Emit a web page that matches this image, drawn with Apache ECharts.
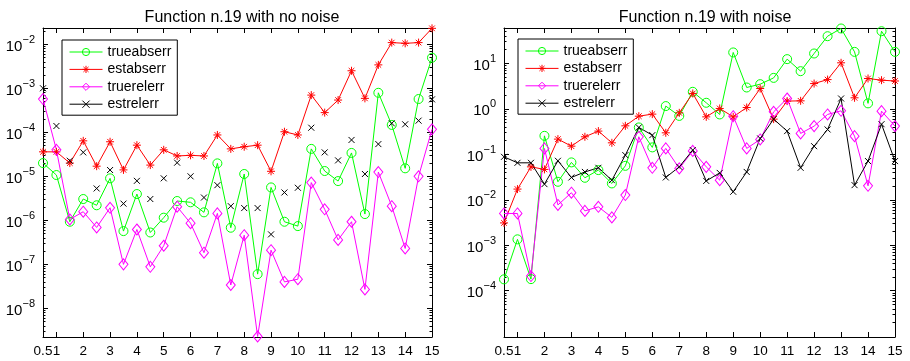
<!DOCTYPE html>
<html>
<head>
<meta charset="utf-8">
<script src="https://cdn.jsdelivr.net/npm/echarts@6/dist/echarts.min.js"></script>
<style>
body{margin:0;background:#fff;}
#main{width:910px;height:361px;}
</style>
</head>
<body>
<div id="main"></div>
<script>
// x positions (0.5 .. 15, step 0.5)
var xs = [0.5, 1, 1.5, 2, 2.5, 3, 3.5, 4, 4.5, 5, 5.5, 6, 6.5, 7, 7.5, 8, 8.5, 9, 9.5, 10,
          10.5, 11, 11.5, 12, 12.5, 13, 13.5, 14, 14.5, 15];
var xTicks = [0.5, 1, 2, 3, 4, 5, 6, 7, 8, 9, 10, 11, 12, 13, 14, 15];
var tol = 1e-4;

// Function n.19 with no noise
var trueAbsNN = [2.0e-5, 1.07e-5, 9.3e-7, 3.05e-6, 2.2e-6, 9.0e-6, 5.7e-7, 3.96e-6, 5.3e-7, 1.15e-6,
                 2.75e-6, 2.57e-6, 1.52e-6, 1.97e-5, 6.8e-7, 1.13e-5, 6.0e-8, 5.6e-6, 9.3e-7, 7.4e-7,
                 4.2e-5, 1.32e-5, 7.8e-6, 3.4e-5, 1.39e-6, 7.9e-4, 1.47e-4, 1.52e-5, 5.7e-4, 4.95e-3];
var estAbsNN  = [3.6e-5, 3.6e-5, 2.0e-5, 6.4e-5, 1.7e-5, 6.1e-5, 1.4e-5, 5.1e-5, 1.8e-5, 4.0e-5,
                 2.9e-5, 3.0e-5, 2.9e-5, 8.7e-5, 4.2e-5, 4.7e-5, 5.1e-5, 1.3e-5, 1.03e-4, 8.7e-5,
                 7.0e-4, 2.8e-4, 5.4e-4, 2.5e-3, 5.9e-4, 3.4e-3, 0.0109, 0.0105, 0.0109, 0.023];
var trueRelNN = [5.7e-4, 4.0e-5, 1.05e-6, 1.57e-6, 6.9e-7, 1.93e-6, 1.0e-7, 6.2e-7, 8.8e-8, 2.65e-7,
                 2.04e-6, 8.6e-7, 1.84e-7, 1.44e-6, 3.4e-8, 4.6e-7, 2.3e-9, 2.1e-7, 4.0e-8, 4.6e-8,
                 7.2e-6, 1.78e-6, 3.6e-7, 9.3e-7, 2.7e-8, 1.25e-5, 2.1e-6, 2.3e-7, 1.0e-5, 1.17e-4];
var estRelNN  = [1.0e-3, 1.39e-4, 2.26e-5, 3.5e-5, 5.3e-6, 1.39e-5, 2.4e-6, 7.9e-6, 3.05e-6, 9.0e-6,
                 2.04e-5, 1.0e-5, 3.3e-6, 6.3e-6, 2.1e-6, 1.9e-6, 1.9e-6, 4.8e-7, 4.3e-6, 5.5e-6,
                 1.27e-4, 3.5e-5, 2.3e-5, 6.7e-5, 1.13e-5, 5.4e-5, 1.6e-4, 1.52e-4, 1.84e-4, 5.6e-4];

// Function n.19 with noise
var trueAbsN = [1.78e-4, 1.35e-3, 1.8e-4, 0.255, 0.0249, 0.0664, 0.0305, 0.045, 0.0229, 0.0558,
                0.39, 0.142, 1.15, 0.70, 2.37, 1.36, 0.753, 17.4, 2.95, 3.49,
                4.8, 12.4, 6.74, 16.5, 39.6, 58.5, 17.9, 1.32, 51, 17.9];
var estAbsN  = [3.1e-3, 0.0172, 0.053, 0.0466, 0.216, 0.151, 0.243, 0.324, 0.179, 0.423,
                0.69, 0.766, 0.297, 0.817, 2.18, 0.667, 1.02, 0.667, 1.07, 2.8,
                0.594, 1.48, 1.5, 3.6, 4.4, 10.3, 1.75, 4.65, 4.27, 4.1];
var trueRelN = [5.0e-3, 5.0e-3, 2.1e-4, 0.135, 7.7e-3, 0.0143, 5.7e-3, 7.0e-3, 4.1e-3, 0.0127,
                0.243, 0.0505, 0.135, 0.049, 0.119, 0.053, 0.027, 0.69, 0.135, 0.212,
                0.86, 1.69, 0.288, 0.417, 0.753, 0.904, 0.251, 0.0203, 0.89, 0.417];
var estRelN  = [0.088, 0.065, 0.065, 0.0221, 0.072, 0.031, 0.041, 0.0505, 0.027, 0.096,
                0.39, 0.264, 0.031, 0.053, 0.124, 0.026, 0.039, 0.015, 0.041, 0.223,
                0.594, 0.324, 0.0505, 0.151, 0.352, 1.69, 0.021, 0.071, 0.46, 0.071];

var FONT = 'Liberation Sans, Arial, Helvetica, sans-serif';
var names = ['trueabserr', 'estabserr', 'truerelerr', 'estrelerr'];
var colors = ['#00ff00', '#ff0000', '#ff00ff', '#000000'];

var ASTER = 'path://M5,0L5,10M0,5L10,5M1.5,1.5L8.5,8.5M1.5,8.5L8.5,1.5';
var CROSS = 'path://M0,0L10,10M0,10L10,0';

function decades(lo, hi) {
  var out = [];
  for (var k = lo; k <= hi; k++) out.push(Math.pow(10, k));
  return out;
}
function minors(lo, hi) {
  var out = [];
  for (var k = lo; k <= hi; k++)
    for (var m = 2; m <= 9; m++) out.push(+(m * Math.pow(10, k)).toPrecision(3));
  return out;
}
function expLabel(v) {
  var e = Math.log10(v), r = Math.round(e);
  if (Math.abs(e - r) > 1e-6) return '';
  return '{b|10}{s|' + (r < 0 ? '\u2212' : '') + Math.abs(r) + '}';
}

function xAxes(gi) {
  var base = {
    type: 'value', gridIndex: gi, min: 0.5, max: 15,
    axisLine: {show: true, onZero: false, lineStyle: {color: '#000', width: 1}},
    axisTick: {show: true, inside: true, length: 5, customValues: xTicks, lineStyle: {color: '#000'}},
    splitLine: {show: false}
  };
  var bottom = Object.assign({}, base, {
    position: 'bottom',
    axisLabel: {customValues: xTicks, color: '#000', fontSize: 13.5, fontFamily: FONT, margin: 7,
                showMinLabel: true, showMaxLabel: true, hideOverlap: false}
  });
  var top = Object.assign({}, base, {position: 'top', axisLabel: {show: false}});
  return [bottom, top];
}

function yAxes(gi, min, max, lo, hi) {
  var majors = decades(lo, hi), mins = minors(lo - 1, hi);
  var out = [];
  ['left', 'right'].forEach(function (pos) {
    out.push({
      type: 'log', gridIndex: gi, min: min, max: max, position: pos,
      axisLine: {show: true, onZero: false, lineStyle: {color: '#000', width: 1}},
      axisTick: {show: true, inside: true, length: 5, customValues: majors, lineStyle: {color: '#000'}},
      axisLabel: pos === 'left' ? {
        customValues: majors, formatter: expLabel, margin: 8,
        rich: {
          b: {fontSize: 15, fontFamily: FONT, color: '#000', verticalAlign: 'bottom', lineHeight: 20},
          s: {fontSize: 11, fontFamily: FONT, color: '#000', verticalAlign: 'top'}
        }
      } : {show: false},
      splitLine: {show: false}
    });
    out.push({
      type: 'log', gridIndex: gi, min: min, max: max, position: pos,
      axisLine: {show: false},
      axisTick: {show: true, inside: true, length: 2.5, customValues: mins, lineStyle: {color: '#000'}},
      axisLabel: {show: false},
      splitLine: {show: false}
    });
  });
  return out;
}

function line(name, arr, xi, yi, color, symbol, size, noLine) {
  return {
    name: name, type: 'line', xAxisIndex: xi, yAxisIndex: yi,
    data: xs.map(function (x, i) { return [x, arr[i]]; }),
    symbol: symbol, symbolSize: size, showSymbol: true, showAllSymbol: true,
    lineStyle: {color: color, width: noLine ? 0 : 1, opacity: noLine ? 0 : 1},
    itemStyle: {color: 'rgba(0,0,0,0)', borderColor: color, borderWidth: 1},
    emphasis: {disabled: true},
    z: 3
  };
}

function panel(gi, sets) {
  var xi = gi * 2, yi = gi * 4;
  var s = [
    line(names[0], sets[0], xi, yi, colors[0], 'circle', 9),
    line(names[1], sets[1], xi, yi, colors[1], ASTER, 8),
    line(names[2], sets[2], xi, yi, colors[2], 'diamond', [9, 11]),
    line(names[3], sets[3], xi, yi, colors[3], CROSS, 6, gi === 0)
  ];
  s[0].markLine = {
    silent: true, symbol: 'none', label: {show: false},
    lineStyle: {color: '#0000ff', width: 1, type: 'solid'},
    data: [{yAxis: tol}]
  };
  return s;
}

function legend(left, top) {
  return {
    orient: 'vertical', left: left, top: top,
    padding: [5, 6, 4, 7], borderColor: '#000', borderWidth: 1,
    itemWidth: 33, itemHeight: 9, itemGap: 3.4,
    textStyle: {fontSize: 14, fontFamily: FONT, color: '#000', lineHeight: 14},
    selectedMode: false,
    data: names.map(function (n, i) {
      return {
        name: n,
        lineStyle: {width: 1, opacity: 1, color: colors[i]},
        itemStyle: {color: 'rgba(0,0,0,0)', borderColor: colors[i], borderWidth: 1}
      };
    })
  };
}

var chart = echarts.init(document.getElementById('main'), null, {renderer: 'canvas'});
chart.setOption({
  animation: false,
  backgroundColor: '#fff',
  title: [
    {text: 'Function n.19 with no noise', left: 237, top: 5, textAlign: 'center',
     textStyle: {fontSize: 16, fontWeight: 'normal', fontFamily: FONT, color: '#000'}},
    {text: 'Function n.19 with noise', left: 700, top: 5, textAlign: 'center',
     textStyle: {fontSize: 16, fontWeight: 'normal', fontFamily: FONT, color: '#000'}}
  ],
  legend: [legend(62, 40), legend(518, 39)],
  grid: [
    {left: 43, top: 28, width: 389, height: 309},
    {left: 504, top: 28, width: 391, height: 309}
  ],
  xAxis: xAxes(0).concat(xAxes(1)),
  yAxis: yAxes(0, 2.24e-9, 0.0234, -8, -2).concat(yAxes(1, 9.6e-6, 60, -4, 1)),
  series: panel(0, [trueAbsNN, estAbsNN, trueRelNN, estRelNN])
    .concat(panel(1, [trueAbsN, estAbsN, trueRelN, estRelN]))
});
</script>
</body>
</html>
